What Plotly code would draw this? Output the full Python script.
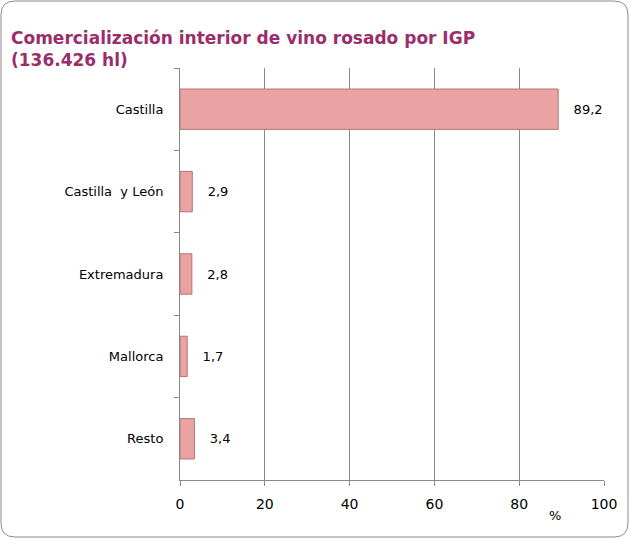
import plotly.graph_objects as go

categories = ["Castilla", "Castilla  y León", "Extremadura", "Mallorca", "Resto"]
values = [89.2, 2.9, 2.8, 1.7, 3.4]
labels = ["89,2", "2,9", "2,8", "1,7", "3,4"]
title_text = "Comercialización interior de vino rosado por IGP<br>(136.426 hl)"

W, H = 630, 539
L, R, T, B = 180, 26, 68, 59
pw, ph = W - L - R, H - T - B

def px_x(px):
    return (px - L) / pw

def px_y(py):
    return 1 - (py - T) / ph

fig = go.Figure()
fig.add_trace(go.Bar(
    y=categories, x=values, orientation="h",
    width=0.49,
    marker=dict(color="#E8A3A2", line=dict(color="#B87373", width=1)),
    text=["&nbsp;&nbsp;&nbsp;" + t for t in labels],
    textposition="outside",
    textfont=dict(family="DejaVu Sans", size=13, color="#000000"),
    cliponaxis=False,
    hoverinfo="skip",
))

# rounded outer border
x0, x1, y0, y1, r = 1, 628, 1, 537, 14
def P(x, y):
    return f"{px_x(x):.5f},{px_y(y):.5f}"
path = (f"M {P(x0+r,y0)} L {P(x1-r,y0)} Q {P(x1,y0)} {P(x1,y0+r)} "
        f"L {P(x1,y1-r)} Q {P(x1,y1)} {P(x1-r,y1)} L {P(x0+r,y1)} "
        f"Q {P(x0,y1)} {P(x0,y1-r)} L {P(x0,y0+r)} Q {P(x0,y0)} {P(x0+r,y0)} Z")
fig.add_shape(type="path", path=path, xref="paper", yref="paper",
              line=dict(color="#8C8C8C", width=1), layer="below")

fig.add_annotation(text=title_text, xref="paper", yref="paper",
                   x=px_x(9), y=px_y(26), xanchor="left", yanchor="top", align="left",
                   showarrow=False,
                   font=dict(family="DejaVu Sans", size=17, color="#9B2E6A", weight="bold"))

fig.add_annotation(text="%", xref="paper", yref="paper", x=px_x(563), y=px_y(525),
                   showarrow=False, font=dict(family="DejaVu Sans", size=13, color="#000000"))

fig.update_layout(
    width=W, height=H,
    margin=dict(l=L, r=R, t=T, b=B),
    paper_bgcolor="white", plot_bgcolor="white",
    showlegend=False,
    xaxis=dict(range=[0, 100], dtick=20, showgrid=True, gridcolor="#8A8A8A", gridwidth=1,
               showline=True, linecolor="#8A8A8A", ticks="outside", ticklen=5,
               tickcolor="#8A8A8A", zeroline=False, ticklabelstandoff=6,
               tickfont=dict(family="DejaVu Sans", size=14, color="#000000")),
    yaxis=dict(autorange="reversed", showline=True, linecolor="#8A8A8A",
               ticks="outside", tickson="boundaries", ticklen=5, tickcolor="#8A8A8A",
               showgrid=False, ticklabelstandoff=13,
               tickfont=dict(family="DejaVu Sans", size=13, color="#000000")),
)

fig.write_html("out.html", config={"displayModeBar": False},
               post_script="document.body.style.margin='0px';document.body.style.overflow='hidden';")
